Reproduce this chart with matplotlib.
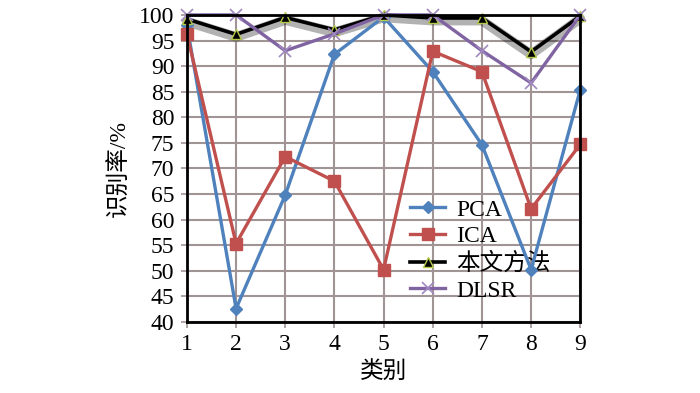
import matplotlib.pyplot as plt

plt.rcParams['font.family'] = ['Liberation Serif', 'Noto Sans CJK SC']

classes = [1, 2, 3, 4, 5, 6, 7, 8, 9]
pca = [98, 42.6, 64.8, 92.3, 99.6, 88.9, 74.6, 50.2, 85.4]
ica = [96.3, 55.3, 72.3, 67.5, 50.2, 92.9, 88.9, 62.1, 74.7]
ours = [99.2, 96.2, 99.5, 97.1, 100, 99.4, 99.4, 92.8, 99.8]
dlsr = [100, 100, 93, 96.3, 100, 100, 93, 86.7, 100]

fig = plt.figure(figsize=(7, 3.93), dpi=100)
ax = fig.add_axes([0.267, 0.181, 0.562, 0.781])

ax.plot(classes, pca, color='#4F81BD', lw=2.4, marker='D', ms=6, label='PCA', clip_on=False, zorder=3)
ax.plot(classes, ica, color='#C0504D', lw=2.4, marker='s', ms=8, label='ICA', clip_on=False, zorder=3)
# soft shadow under the black line
ax.plot(classes, [v - 0.5 for v in ours], color='black', lw=7, alpha=0.3, clip_on=False,
        solid_capstyle='round', zorder=2.9)
ax.plot(classes, ours, color='black', lw=2.6, marker='^', ms=7, mfc='black', mec='#b5c94a',
        label='本文方法', clip_on=False, zorder=3.1)
ax.plot(classes, dlsr, color='#8064A2', lw=2.4, marker='x', ms=8, mew=1.2, mec='#a088c0',
        label='DLSR', clip_on=False, zorder=3.2)

ax.set_xlim(1, 9)
ax.set_ylim(40, 100)
ax.set_xticks(classes)
ax.set_yticks(range(40, 101, 5))
ax.grid(True, color='#a09494', lw=1.5)
for s in ax.spines.values():
    s.set_linewidth(2)
    s.set_color('black')
    s.set_zorder(4)
ax.tick_params(axis='both', labelsize=17, length=4, width=1.2, color='#a09494', pad=5)
ax.set_xlabel('类别', fontsize=17, labelpad=4)
ax.set_ylabel('识别率/%', fontsize=17, labelpad=6)

leg = ax.legend(loc='upper left', bbox_to_anchor=(0.567, 0.40), frameon=False, fontsize=17,
                handlelength=1.5, handletextpad=0.45, labelspacing=0.22, borderpad=0, borderaxespad=0)
leg.set_zorder(2.5)

fig.savefig('out.png', dpi=100)
